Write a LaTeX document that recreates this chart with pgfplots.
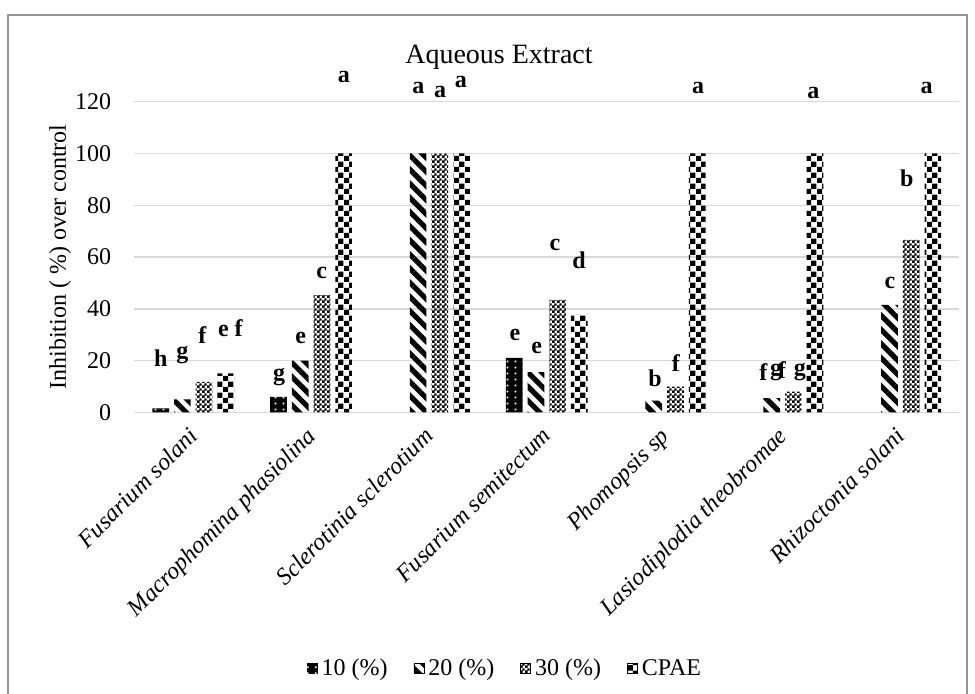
\documentclass[border=0pt]{standalone}
\usepackage{fontspec}
\setmainfont{Liberation Serif}
\usepackage{pgfplots}
\usepackage{pgfplotstable}
\pgfplotsset{compat=1.18}
\usetikzlibrary{patterns,patterns.meta}

\pgfdeclarepatternformonly{bigchecker}{\pgfpointorigin}{\pgfqpoint{5.6pt}{5.6pt}}{\pgfqpoint{5.6pt}{5.6pt}}{%
 \pgfpathrectangle{\pgfpointorigin}{\pgfqpoint{2.8pt}{2.8pt}}%
 \pgfpathrectangle{\pgfqpoint{2.8pt}{2.8pt}}{\pgfqpoint{2.8pt}{2.8pt}}%
 \pgfusepath{fill}}
\pgfdeclarepatternformonly{finechecker}{\pgfpointorigin}{\pgfqpoint{2.6pt}{2.6pt}}{\pgfqpoint{2.6pt}{2.6pt}}{%
 \pgfpathrectangle{\pgfpointorigin}{\pgfqpoint{1.5pt}{1.5pt}}%
 \pgfpathrectangle{\pgfqpoint{1.3pt}{1.3pt}}{\pgfqpoint{1.3pt}{1.3pt}}%
 \pgfusepath{fill}}
\pgfdeclarepatternformonly{wdots}{\pgfpointorigin}{\pgfqpoint{4pt}{3pt}}{\pgfqpoint{4pt}{3pt}}{%
 \pgfpathrectangle{\pgfqpoint{1.5pt}{1pt}}{\pgfqpoint{1pt}{1pt}}%
 \pgfusepath{fill}}

\definecolor{gridgray}{RGB}{217,217,217}
\definecolor{framegray}{RGB}{150,150,150}

\pgfplotstableread{
x a b c d
0 1.5 5 11.8 15
1 6 20 45.3 100
2 0 100 100 100
3 21 15.5 43.4 37.6
4 0 4.5 9.9 100
5 0 5.5 8 100
6 0 41.5 66.6 100
}\datatable

\newcommand{\twelve}{\fontsize{12}{14}\selectfont}

\begin{document}
\begin{tikzpicture}
\useasboundingbox (0,0) rectangle (487.5pt,-346.5pt);
\draw[framegray, line width=0.6pt] (4pt,-360pt) -- (4pt,-7.5pt) -- (483.5pt,-7.5pt) -- (483.5pt,-360pt);
\node[font=\fontsize{14}{16}\selectfont, anchor=base] at (249.5pt,-31.5pt) {Aqueous Extract};
\begin{axis}[
  at={(67.15pt,-206.15pt)}, anchor=south west,
  scale only axis, width=412.5pt, height=155.3pt,
  xmin=-0.5, xmax=6.5, ymin=0, ymax=120,
  ytick={0,20,...,120},
  xtick={0,...,6},
  xticklabels={Fusarium solani, Macrophomina phasiolina, Sclerotinia sclerotium, Fusarium semitectum, Phomopsis sp, Lasiodiplodia theobromae, Rhizoctonia solani},
  x tick label style={font=\twelve\itshape, yshift=-6.5pt, xshift=-3pt, rotate=45, anchor=north east, inner sep=0pt},
  y tick label style={font=\twelve, xshift=-8pt},
  /pgf/number format/assume math mode=true,
  ylabel={Inhibition ( \%) over control},
  ylabel style={font=\twelve, at={(axis description cs:-0.09,0.5)}, anchor=center},
  axis line style={draw=none},
  major tick length=0pt,
  ymajorgrids,
  major grid style={gridgray, line width=0.75pt},
  clip=false,
  ybar, bar width=0.1415,
  legend style={at={(axis description cs:0.4505,-0.825)}, anchor=center, draw=none, fill=none,
    legend columns=4, font=\twelve, /tikz/every even column/.append style={column sep=11pt}},
  legend cell align=left,
  legend image code/.code={\draw[#1] (0pt,-2.5pt) rectangle (5pt,2.5pt);},
  lab/.style={font=\twelve\bfseries, anchor=center, inner sep=0pt},
  every axis plot/.append style={y filter/.expression={y==0 ? nan : y}},
]
\addplot[draw=none, fill=black, bar shift=-0.276, postaction={pattern=wdots, pattern color=white}] table[x=x,y=a]{\datatable};
\addlegendentry{10 (\%)}
\addplot[draw=none, pattern={Lines[angle=-45,distance=5pt,line width=2.6pt]}, bar shift=-0.092] table[x=x,y=b]{\datatable};
\addlegendentry{20 (\%)}
\addplot[draw=none, pattern=finechecker, bar shift=0.092] table[x=x,y=c]{\datatable};
\addlegendentry{30 (\%)}
\addplot[draw=none, pattern=bigchecker, bar shift=0.276] table[x=x,y=d]{\datatable};
\addlegendentry{CPAE}

\node[/pgfplots/lab] at (axis cs:-0.276,20.9) {h};
\node[/pgfplots/lab] at (axis cs:-0.093,22.1) {g};
\node[/pgfplots/lab] at (axis cs:0.077,29.9) {f};
\node[/pgfplots/lab] at (axis cs:0.315,32.4) {e f};
\node[/pgfplots/lab] at (axis cs:0.728,13.8) {g};
\node[/pgfplots/lab] at (axis cs:0.912,28.6) {e};
\node[/pgfplots/lab] at (axis cs:1.090,53.7) {c};
\node[/pgfplots/lab] at (axis cs:1.279,129.6) {a};
\node[/pgfplots/lab] at (axis cs:1.910,125.2) {a};
\node[/pgfplots/lab] at (axis cs:2.094,123.9) {a};
\node[/pgfplots/lab] at (axis cs:2.272,127.7) {a};
\node[/pgfplots/lab] at (axis cs:2.730,29.9) {e};
\node[/pgfplots/lab] at (axis cs:2.914,24.7) {e};
\node[/pgfplots/lab] at (axis cs:3.070,64.6) {c};
\node[/pgfplots/lab] at (axis cs:3.273,58.8) {d};
\node[/pgfplots/lab] at (axis cs:3.918,13.1) {b};
\node[/pgfplots/lab] at (axis cs:4.096,18.9) {f};
\node[/pgfplots/lab] at (axis cs:4.285,125.2) {a};
\node[/pgfplots/lab] at (axis cs:4.837,15.7) {f};
\node[/pgfplots/lab] at (axis cs:4.945,15.7) {g};
\node[/pgfplots/lab] at (axis cs:4.995,16.5) {f};
\node[/pgfplots/lab] at (axis cs:5.148,15.7) {g};
\node[/pgfplots/lab] at (axis cs:5.261,123.2) {a};
\node[/pgfplots/lab] at (axis cs:5.912,49.8) {c};
\node[/pgfplots/lab] at (axis cs:6.054,90.4) {b};
\node[/pgfplots/lab] at (axis cs:6.223,125.2) {a};
\end{axis}
\end{tikzpicture}
\end{document}
